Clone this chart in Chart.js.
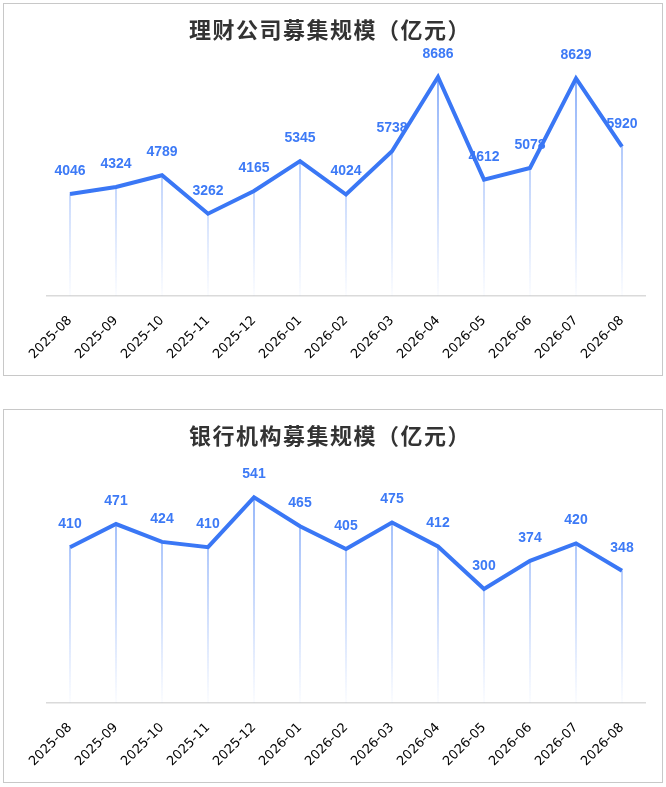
<!DOCTYPE html>
<html>
<head>
<meta charset="utf-8">
<script src="https://cdn.jsdelivr.net/npm/chart.js@4"></script>
<style>
  html, body { margin: 0; padding: 0; background: #fff; }
  .card { position: absolute; left: 3px; width: 658px; border: 1px solid #c8c8c8; background: #fff; }
  #c1 { top: 3px; height: 371px; }
  #c2 { top: 409px; height: 372px; }
  canvas { display: block; }
</style>
</head>
<body>
<div class="card" id="c1"><canvas id="chart1" width="658" height="371"></canvas></div>
<div class="card" id="c2"><canvas id="chart2" width="658" height="372"></canvas></div>
<script>
const months = ["2025-08","2025-09","2025-10","2025-11","2025-12","2026-01","2026-02","2026-03","2026-04","2026-05","2026-06","2026-07","2026-08"];
const wealthValues = [4046, 4324, 4789, 3262, 4165, 5345, 4024, 5738, 8686, 4612, 5078, 8629, 5920];
const bankValues = [410, 471, 424, 410, 541, 465, 405, 475, 412, 300, 374, 420, 348];
const wealthTitle = "理财公司募集规模（亿元）";
const bankTitle = "银行机构募集规模（亿元）";

const BLUE = "#3a77f5";

const valueLabels = {
  id: "valueLabels",
  beforeDatasetsDraw(chart) {
    const meta = chart.getDatasetMeta(0);
    const data = chart.data.datasets[0].data;
    const ctx = chart.ctx;
    ctx.save();
    ctx.font = "bold 14px 'Liberation Sans', Arial, sans-serif";
    ctx.fillStyle = "#3d7af6";
    ctx.textAlign = "center";
    ctx.textBaseline = "middle";
    meta.data.forEach((pt, i) => {
      ctx.fillText(String(data[i]), pt.x, pt.y - 23);
    });
    ctx.restore();
  }
};

const titleDraw = {
  id: "titleDraw",
  afterDraw(chart, args, opts) {
    const ctx = chart.ctx;
    ctx.save();
    ctx.font = "bold 22px 'Noto Sans CJK SC', sans-serif";
    if ("letterSpacing" in ctx) ctx.letterSpacing = "1.5px";
    ctx.fillStyle = "#333";
    ctx.textAlign = "center";
    ctx.textBaseline = "middle";
    ctx.fillText(opts.text, 326, 26);
    ctx.restore();
  }
};

function makeChart(id, title, values, yMax) {
  const ctx = document.getElementById(id);
  return new Chart(ctx, {
    type: "bar",
    data: {
      labels: months,
      datasets: [
        {
          type: "line",
          data: values,
          borderColor: BLUE,
          borderWidth: 4,
          pointRadius: 0,
          tension: 0,
          fill: false,
          borderJoinStyle: "miter"
        },
        {
          type: "bar",
          data: values,
          barThickness: 1,
          backgroundColor: (c) => {
            const area = c.chart.chartArea;
            if (!area) return "rgba(58,119,245,0.4)";
            const g = c.chart.ctx.createLinearGradient(0, area.top, 0, area.bottom);
            g.addColorStop(0, "rgba(58,119,245,0.7)");
            g.addColorStop(1, "rgba(58,119,245,0.02)");
            return g;
          }
        }
      ]
    },
    options: {
      responsive: false,
      animation: false,
      layout: { padding: { left: 43, right: 17, top: 65, bottom: 0 } },
      plugins: {
        legend: { display: false },
        tooltip: { enabled: false },
        title: { display: false },
        titleDraw: { text: title }
      },
      scales: {
        x: {
          offset: true,
          grid: { display: false, drawTicks: false },
          border: { display: true, color: "#dadada", width: 1.5 },
          ticks: {
            color: "#000",
            font: { family: "'DejaVu Sans', Verdana, sans-serif", size: 13 },
            maxRotation: 45,
            minRotation: 45,
            padding: 17,
            autoSkip: false
          },
          afterFit(scale) { scale.height = 79; }
        },
        y: { display: false, min: 0, max: yMax }
      }
    },
    plugins: [valueLabels, titleDraw]
  });
}

makeChart("chart1", wealthTitle, wealthValues, 9000);
makeChart("chart2", bankTitle, bankValues, 600);
</script>
</body>
</html>
